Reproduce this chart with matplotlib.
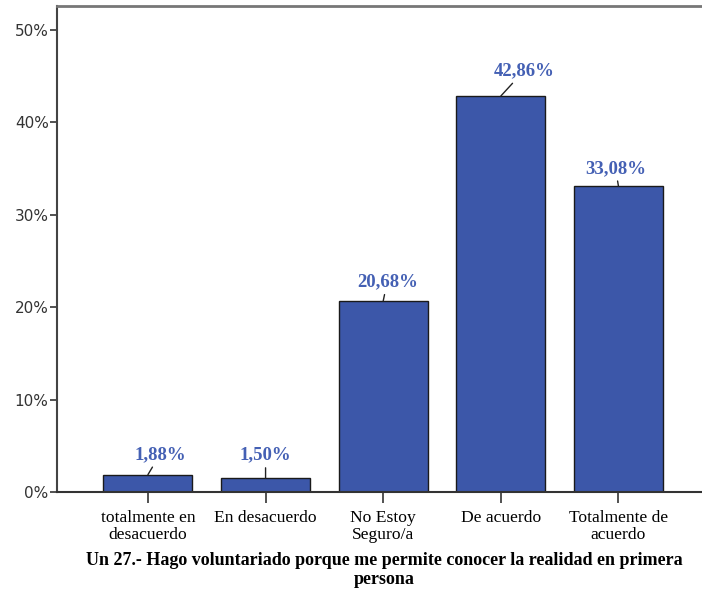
import numpy as np
import matplotlib.pyplot as plt

# data
categorias = ['totalmente en\ndesacuerdo', 'En desacuerdo', 'No Estoy\nSeguro/a',
              'De acuerdo', 'Totalmente de\nacuerdo']
porcentajes = [1.88, 1.50, 20.68, 42.86, 33.08]
etiquetas = ['1,88%', '1,50%', '20,68%', '42,86%', '33,08%']
yticks = [0, 10, 20, 30, 40, 50]
titulo = 'Un 27.- Hago voluntariado porque me permite conocer la realidad en primera\npersona'

# label offsets (pixels) from bar top, to label centre
offs = [(12, 20), (0, 23), (4, 19), (23, 25), (-3, 18)]

azul = '#3C57A9'
azul_txt = '#4460B4'

fig = plt.figure(figsize=(7.02, 5.92), dpi=100)
ax = fig.add_axes([57/702, 100/592, 1 - 57/702, 486/592])

x = np.arange(len(categorias))
ax.bar(x, porcentajes, width=0.756, color=azul, edgecolor='#1a1a1a', linewidth=1.0, zorder=2)

for xi, v, lab, (dx, dy) in zip(x, porcentajes, etiquetas, offs):
	ax.annotate(lab, xy=(xi, v), xytext=(dx, dy), textcoords='offset pixels',
		ha='center', va='center', color=azul_txt, fontsize=13.5, fontweight='bold',
		family='Liberation Serif',
		arrowprops=dict(arrowstyle='-', color='#222222', lw=1.0, shrinkA=1, shrinkB=0))

ax.set_xlim(-0.773, 4.71)
ax.set_ylim(0, 52.6)
ax.set_xticks(x)
ax.set_xticklabels(categorias, family='Liberation Serif', fontsize=12.6, linespacing=1.08)
ax.set_yticks(yticks)
ax.set_yticklabels([str(t) + '%' for t in yticks], family='DejaVu Sans', fontsize=11, color='#333333')
ax.tick_params(axis='x', length=8, width=1.2, color='#333333', pad=5)
ax.tick_params(axis='y', length=5, width=1.2, color='#333333', pad=1)

ax.spines['right'].set_visible(False)
ax.spines['left'].set_color('#444444')
ax.spines['left'].set_linewidth(1.5)
ax.spines['bottom'].set_color('#333333')
ax.spines['bottom'].set_linewidth(1.5)
ax.spines['top'].set_color('#777777')
ax.spines['top'].set_linewidth(2.0)

fig.text(0.548, 1 - 552/592, titulo, ha='center', va='top', family='Liberation Serif',
	fontsize=13, fontweight='bold', linespacing=1.17)

plt.savefig('out.png', dpi=100)
